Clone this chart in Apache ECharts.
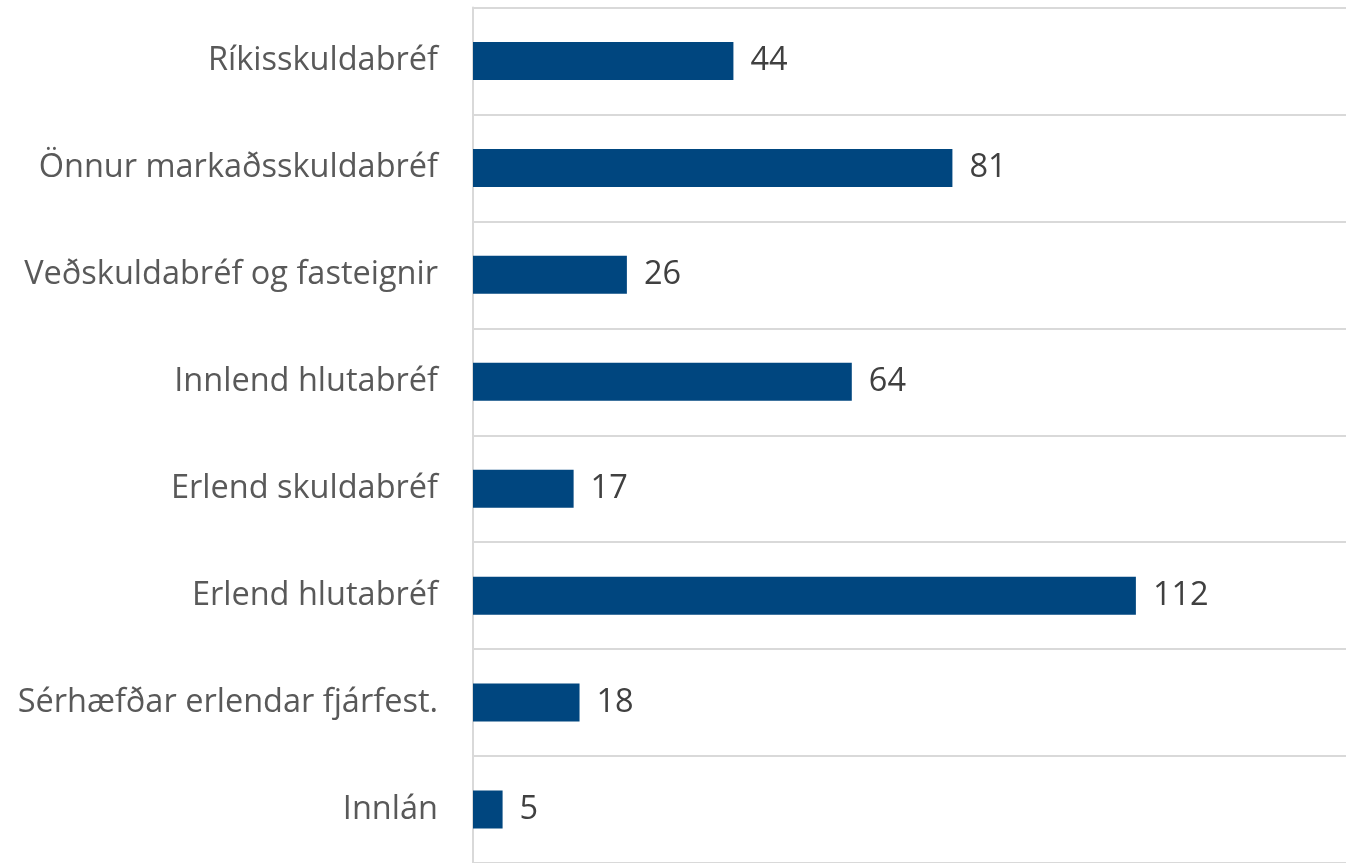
<!DOCTYPE html>
<html><head><meta charset="utf-8">
<script src="https://cdn.jsdelivr.net/npm/echarts@6/dist/echarts.min.js"></script>
<style>html,body{margin:0;padding:0;background:#fff}#c{width:1346px;height:863px}</style>
</head><body><div id="c"></div>
<script>
const categories = ["Ríkisskuldabréf","Önnur markaðsskuldabréf","Veðskuldabréf og fasteignir","Innlend hlutabréf","Erlend skuldabréf","Erlend hlutabréf","Sérhæfðar erlendar fjárfest.","Innlán"];
const values = [44,81,26,64,17,112,18,5];
const chart = echarts.init(document.getElementById('c'));
chart.setOption({
  animation:false,
  grid:{left:473,right:0,top:7.5,height:859,containLabel:false},
  xAxis:{type:'value',min:0,max:147.5,show:true,axisLine:{show:false},axisTick:{show:false},axisLabel:{show:false},splitLine:{show:false}},
  yAxis:{type:'category',data:categories,inverse:true,
    axisLine:{show:true,lineStyle:{color:'#d9d9d9',width:2}},
    axisTick:{show:false},
    splitLine:{show:true,lineStyle:{color:'#d9d9d9',width:2}},
    axisLabel:{color:'#595959',fontSize:32.5,fontFamily:'Open Sans',margin:35,padding:[6,0,0,0]}
  },
  series:[{type:'bar',data:values,barWidth:38,itemStyle:{color:'#00467f'},
    label:{show:true,position:'right',distance:17,color:'#404040',fontSize:32.5,fontFamily:'Open Sans',padding:[6,0,0,0]}}]
});
</script></body></html>
